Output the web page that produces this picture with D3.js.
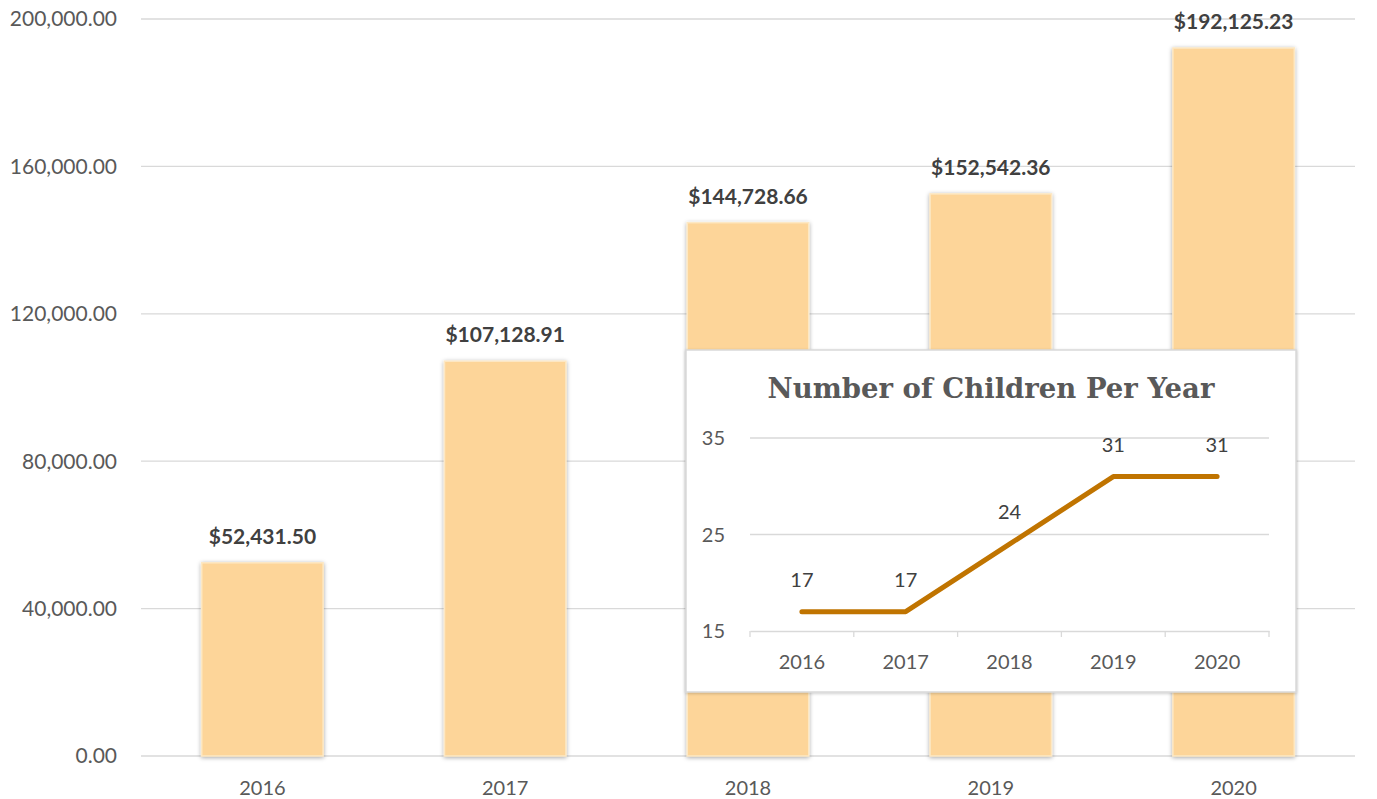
<!DOCTYPE html>
<html>
<head>
<meta charset="utf-8">
<script src="https://cdn.jsdelivr.net/npm/d3@7"></script>
<style>
  body { margin: 0; background: #fff; }
  svg { display: block; font-family: Lato, "Noto Sans", sans-serif; }
</style>
</head>
<body>
<svg id="chart" width="1377" height="799"></svg>
<script>
// main chart data
const years = ["2016", "2017", "2018", "2019", "2020"];
const amounts = [52431.50, 107128.91, 144728.66, 152542.36, 192125.23];
const amountTicks = [0, 40000, 80000, 120000, 160000, 200000];

// inset chart data
const children = [17, 17, 24, 31, 31];
const childTicks = [15, 25, 35];
const insetTitle = "Number of Children Per Year";

const svg = d3.select("#chart");

const defs = svg.append("defs");
const shadow = defs.append("filter").attr("id", "barShadow")
  .attr("x", "-20%").attr("y", "-10%").attr("width", "140%").attr("height", "120%");
shadow.append("feDropShadow")
  .attr("dx", 0).attr("dy", 1).attr("stdDeviation", 2)
  .attr("flood-color", "#000").attr("flood-opacity", 0.35);

const boxShadow = defs.append("filter").attr("id", "boxShadow")
  .attr("x", "-5%").attr("y", "-5%").attr("width", "110%").attr("height", "110%");
boxShadow.append("feDropShadow")
  .attr("dx", 0).attr("dy", 1).attr("stdDeviation", 1.5)
  .attr("flood-color", "#000").attr("flood-opacity", 0.2);

// ---- main bar chart ----
const x = d3.scaleBand().domain(years).range([141, 1355]).paddingInner(0.5).paddingOuter(0.25);
const y = d3.scaleLinear().domain([0, 200000]).range([756, 19]);

// gridlines
svg.append("g")
  .selectAll("line")
  .data(amountTicks)
  .join("line")
  .attr("x1", 141).attr("x2", 1355)
  .attr("y1", d => y(d)).attr("y2", d => y(d))
  .attr("stroke", "#d9d9d9").attr("stroke-width", 1.3);

// y tick labels
svg.append("g")
  .selectAll("text")
  .data(amountTicks)
  .join("text")
  .attr("x", 117)
  .attr("y", d => y(d))
  .attr("dy", "0.35em")
  .attr("text-anchor", "end")
  .attr("fill", "#595959")
  .style("font-size", "21px")
  .text(d => d3.format(",.2f")(d));

// bars
svg.append("g")
  .selectAll("rect")
  .data(amounts)
  .join("rect")
  .attr("x", (d, i) => x(years[i]))
  .attr("y", d => y(d))
  .attr("width", x.bandwidth())
  .attr("height", d => y(0) - y(d))
  .attr("fill", "#fdd599")
  .attr("stroke", "#fde8c4")
  .attr("stroke-width", 1.5)
  .attr("filter", "url(#barShadow)");

// bar labels
svg.append("g")
  .selectAll("text")
  .data(amounts)
  .join("text")
  .attr("x", (d, i) => x(years[i]) + x.bandwidth() / 2)
  .attr("y", d => y(d) - 19)
  .attr("text-anchor", "middle")
  .attr("fill", "#404040")
  .style("font-size", "21px")
  .style("font-weight", "bold")
  .text(d => "$" + d3.format(",.2f")(d));

// x labels
svg.append("g")
  .selectAll("text")
  .data(years)
  .join("text")
  .attr("x", d => x(d) + x.bandwidth() / 2)
  .attr("y", 788)
  .attr("dy", "0.35em")
  .attr("text-anchor", "middle")
  .attr("fill", "#595959")
  .style("font-size", "20px")
  .text(d => d);

// ---- inset line chart ----
const inset = svg.append("g");
inset.append("rect")
  .attr("x", 686).attr("y", 350)
  .attr("width", 610).attr("height", 342)
  .attr("fill", "#fff")
  .attr("stroke", "#d9d9d9")
  .attr("stroke-width", 1.5)
  .attr("filter", "url(#boxShadow)");

inset.append("text")
  .attr("x", 991).attr("y", 398)
  .attr("text-anchor", "middle")
  .attr("fill", "#595959")
  .style("font-family", "'DejaVu Serif', serif")
  .style("font-weight", "bold")
  .style("font-size", "27.5px")
  .text(insetTitle);

const ix = d3.scaleBand().domain(years).range([750, 1269]);
const iy = d3.scaleLinear().domain([15, 35]).range([631, 438]);

inset.append("g")
  .selectAll("line")
  .data(childTicks.slice(1))
  .join("line")
  .attr("x1", 750).attr("x2", 1269)
  .attr("y1", d => iy(d)).attr("y2", d => iy(d))
  .attr("stroke", "#d9d9d9").attr("stroke-width", 1.3);

const xAxis = inset.append("g")
  .attr("transform", `translate(0,${iy(15)})`)
  .call(d3.axisBottom(ix).tickSize(0).tickFormat(""));
xAxis.select(".domain").attr("stroke", "#d9d9d9").attr("stroke-width", 1.3);
xAxis.selectAll(".tick").remove();

// category boundary tick marks
inset.append("g")
  .selectAll("line")
  .data(years.concat(["end"]))
  .join("line")
  .attr("x1", (d, i) => i < years.length ? ix(d) : ix.range()[1])
  .attr("x2", (d, i) => i < years.length ? ix(d) : ix.range()[1])
  .attr("y1", iy(15)).attr("y2", iy(15) + 6)
  .attr("stroke", "#d9d9d9").attr("stroke-width", 1.3);

inset.append("g")
  .selectAll("text")
  .data(childTicks)
  .join("text")
  .attr("x", 725)
  .attr("y", d => iy(d))
  .attr("dy", "0.35em")
  .attr("text-anchor", "end")
  .attr("fill", "#595959")
  .style("font-size", "20px")
  .text(d => d);

inset.append("g")
  .selectAll("text")
  .data(years)
  .join("text")
  .attr("x", d => ix(d) + ix.bandwidth() / 2)
  .attr("y", 662)
  .attr("dy", "0.35em")
  .attr("text-anchor", "middle")
  .attr("fill", "#595959")
  .style("font-size", "20px")
  .text(d => d);

const line = d3.line()
  .x((d, i) => ix(years[i]) + ix.bandwidth() / 2)
  .y(d => iy(d));

inset.append("path")
  .datum(children)
  .attr("d", line)
  .attr("fill", "none")
  .attr("stroke", "#c07400")
  .attr("stroke-width", 5)
  .attr("stroke-linecap", "round")
  .attr("stroke-linejoin", "round");

inset.append("g")
  .selectAll("text")
  .data(children)
  .join("text")
  .attr("x", (d, i) => ix(years[i]) + ix.bandwidth() / 2)
  .attr("y", d => iy(d) - 32)
  .attr("dy", "0.35em")
  .attr("text-anchor", "middle")
  .attr("fill", "#404040")
  .style("font-size", "20px")
  .text(d => d);
</script>
</body>
</html>
